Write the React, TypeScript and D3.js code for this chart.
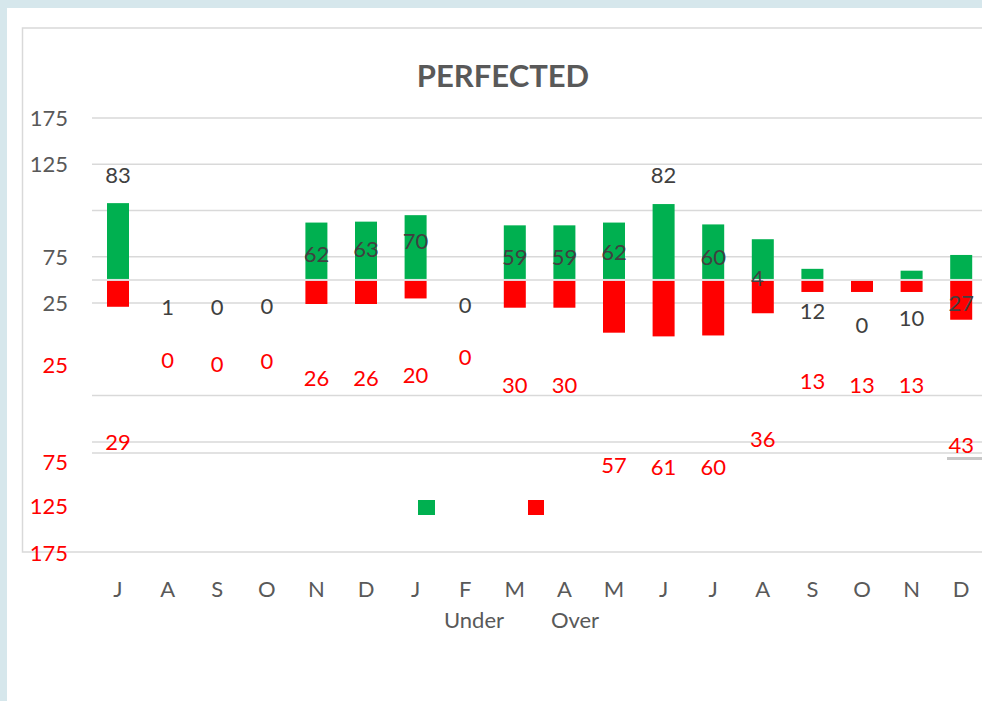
import React from "react";
import * as d3 from "d3";

// ---------- data ----------
const months = ["J", "A", "S", "O", "N", "D", "J", "F", "M", "A", "M", "J", "J", "A", "S", "O", "N", "D"];
const overValues = [83, 1, 0, 0, 62, 63, 70, 0, 59, 59, 62, 82, 60, 44, 12, 0, 10, 27];
const underValues = [29, 0, 0, 0, 26, 26, 20, 0, 30, 30, 57, 61, 60, 36, 13, 13, 13, 43];
const overLabels = ["83", "1", "0", "0", "62", "63", "70", "0", "59", "59", "62", "82", "60", "4", "12", "0", "10", "27"];
const underLabels = ["29", "0", "0", "0", "26", "26", "20", "0", "30", "30", "57", "61", "60", "36", "13", "13", "13", "43"];
// hidden label-series values (where Excel placed the data labels, in axis units)
const overLabelAt = [113, -30, -30, -29, 28, 33, 42, -27, 25, 25, 30, 113, 25, 2, -34, -49, -41, -25];
const underLabelAt = [-175, -87, -91, -88, -106, -106, -103, -84, -114, -114, -200, -203, -203, -172, -110, -114, -114, -179];
// axis tick labels
const grayTicks = ["175", "125", "75", "25"];
const grayTickAt = [175, 125, 25, -25];
const redTicks = ["25", "75", "125", "175"];
const redTickAt = [-92, -197, -245, -295];
const gridValues = [175, 125, 75, 25, 0, -25, -125, -175, -187];
const legendNames = ["Under", "Over"];

const W = 982;
const H = 701;
const GREEN = "#00b050";
const RED = "#ff0000";
const FONT = "Lato, 'Open Sans', sans-serif";
const FS = 22;

export default function App() {
  const idx = months.map((_, i) => i);
  const x = d3.scalePoint<number>().domain(idx).range([93.2, 986]).padding(0.5);
  const y = d3.scaleLinear().domain([-294, 175]).range([552, 118]);
  const bw = 22;
  const y0 = y(0);

  return (
    <svg
      width={W}
      height={H}
      style={{ position: "absolute", left: 0, top: 0, fontFamily: FONT }}
    >
      <rect x={0} y={0} width={W} height={H} fill="#d6e7ec" />
      <rect x={7} y={8} width={W - 7} height={H - 8} fill="#ffffff" />
      {/* chart border */}
      <rect x={22.5} y={28} width={W} height={y(-294) - 28} fill="none" stroke="#d9d9d9" strokeWidth={1.5} />

      {/* title */}
      <text x={503} y={87} textAnchor="middle" fontSize={31} fontWeight={700} fill="#595959">
        PERFECTED
      </text>

      {/* gridlines */}
      {gridValues.map((g, i) => (
        <line key={"g" + i} x1={92} x2={986} y1={y(g)} y2={y(g)} stroke="#d9d9d9" strokeWidth={1.5} />
      ))}
      <line x1={947} x2={986} y1={y(-193)} y2={y(-193)} stroke="#c8c8c8" strokeWidth={3} />

      {/* gray axis labels */}
      {grayTicks.map((t, i) => (
        <text key={"gt" + i} x={68} y={y(grayTickAt[i])} dy="0.35em" textAnchor="end" fontSize={FS} fill="#595959">
          {t}
        </text>
      ))}
      {/* red axis labels */}
      {redTicks.map((t, i) => (
        <text key={"rt" + i} x={68} y={y(redTickAt[i])} dy="0.35em" textAnchor="end" fontSize={FS} fill={RED}>
          {t}
        </text>
      ))}

      {/* bars */}
      {idx.map((i) => {
        const cx = x(i)!;
        const gTop = y(overValues[i]);
        const gH = Math.max(0, y0 - 1 - gTop);
        const rBot = y(-underValues[i]);
        const rH = Math.max(0, rBot - (y0 + 1));
        return (
          <g key={"b" + i}>
            {gH > 0.5 && <rect x={cx - bw / 2} y={gTop} width={bw} height={gH} fill={GREEN} />}
            {rH > 0.5 && <rect x={cx - bw / 2} y={y0 + 1} width={bw} height={rH} fill={RED} />}
          </g>
        );
      })}

      {/* over labels */}
      {idx.map((i) => {
        const lbl = overLabels[i];
        const clipped = lbl.length < String(overValues[i]).length;
        return (
          <text
            key={"ol" + i}
            x={x(i)! + (clipped ? 1 : 0)}
            y={y(overLabelAt[i])}
            dy="0.35em"
            textAnchor={clipped ? "end" : "middle"}
            fontSize={FS}
            fill="#404040"
          >
            {lbl}
          </text>
        );
      })}
      {/* under labels */}
      {idx.map((i) => (
        <text
          key={"ul" + i}
          x={x(i)!}
          y={y(underLabelAt[i])}
          dy="0.35em"
          textAnchor="middle"
          fontSize={FS}
          fill={RED}
        >
          {underLabels[i]}
        </text>
      ))}

      {/* month labels */}
      {idx.map((i) => (
        <text key={"m" + i} x={x(i)!} y={589} dy="0.35em" textAnchor="middle" fontSize={FS} fill="#595959">
          {months[i]}
        </text>
      ))}

      {/* legend */}
      <rect x={418} y={500} width={17} height={15} fill={GREEN} />
      <rect x={528} y={500} width={16} height={15} fill={RED} />
      <text x={474} y={620} dy="0.35em" textAnchor="middle" fontSize={FS} fill="#595959">
        {legendNames[0]}
      </text>
      <text x={575} y={620} dy="0.35em" textAnchor="middle" fontSize={FS} fill="#595959">
        {legendNames[1]}
      </text>
    </svg>
  );
}
